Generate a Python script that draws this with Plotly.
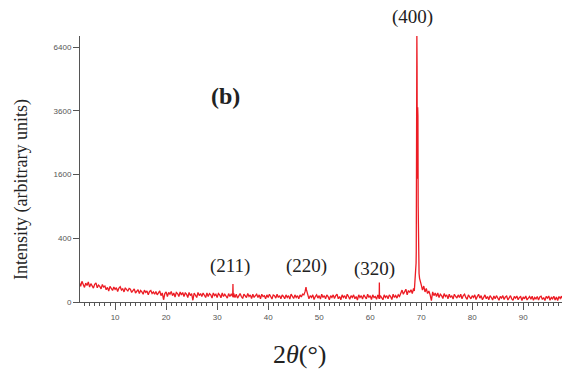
import numpy as np
import plotly.graph_objects as go

# Background scan, sampled every 0.25 deg from 3.0 (intensity, counts)
bg_start, bg_step = 3.0, 0.25
bg_intensity = [
    38, 24, 42, 30, 21, 35, 27, 40, 22, 33, 26, 19, 31, 36, 20, 28, 24, 17, 30, 22,   # 3.0 - 7.75
    25, 15, 21, 12, 24, 18, 13, 22, 16, 20, 11, 19, 23, 14, 17, 10, 20, 15, 12, 18,   # 8.0 - 12.75
    16, 9, 14, 17, 8, 12, 15, 7, 13, 10, 6, 14, 9, 12, 5, 11, 13, 7, 10, 6,           # 13.0 - 17.75
    11, 5, 9, 12, 4, 8, 0.5, 7, 10, 3, 9, 6, 11, 4, 8, 2.5, 9, 7, 3, 10,              # 18.0 - 22.75
    5, 9, 3, 8, 6, 2, 9, 4, 7, 0.3, 8, 5, 2, 9, 4, 7, 3, 8, 5, 2,                     # 23.0 - 27.75
    8, 3, 7, 5, 1.5, 8, 4, 6, 2, 7, 5, 1.8, 8, 3, 6, 4, 1.5, 7, 3, 6,                 # 28.0 - 32.75
    4, 7, 2, 6, 1.5, 5, 7, 3, 1.2, 6, 4, 2, 7, 3, 5, 1.2, 6, 2, 4, 6,                 # 33.0 - 37.75
    2, 5, 1, 6, 3, 4, 1, 5, 2, 6, 3, 0.9, 5, 4, 1.5, 6, 2, 4, 1, 5,                   # 38.0 - 42.75
    3, 1, 5, 2, 4, 0.8, 6, 3, 1.2, 5, 2, 4, 1, 5, 2.5, 6, 5, 11, 15, 4,               # 43.0 - 47.75
    1, 4, 2, 5, 0.6, 3, 5, 1.5, 4, 0.8, 6, 2, 4, 1, 5, 3, 0.5, 4, 2, 5,               # 48.0 - 52.75
    1.2, 4, 6, 1, 3, 0.5, 5, 2, 4, 1, 6, 3, 0.7, 4, 2, 5, 1, 3, 0.4, 5,               # 53.0 - 57.75
    2, 4, 0.8, 5, 3, 1, 6, 2, 4, 0.6, 5, 2, 3, 0.7, 5, 1, 4, 2, 0.5, 5,               # 58.0 - 62.75
    2, 4, 1, 5, 3, 0.6, 6, 2, 4, 1.5, 5, 3, 8, 14, 6, 12, 16, 5, 13, 9,               # 63.0 - 67.75
    15, 7, 18, 35, 150, 1600, 150, 45, 30, 14, 25, 10, 18, 7, 12, 5, 0.2, 10, 4, 8,   # 68.0 - 72.75
    3, 8, 2, 6, 4, 1.2, 7, 3, 5, 1, 6, 2, 4, 0.8, 6, 3, 1.5, 5, 2, 6,                 # 73.0 - 77.75
    1, 4, 6, 2, 0.7, 5, 3, 1, 4, 2, 5, 0.6, 3, 6, 1.5, 4, 0.5, 3, 5, 1,               # 78.0 - 82.75
    3, 0.5, 4, 2, 0.4, 3.5, 1, 4, 2, 0.3, 3, 1.5, 4, 0.6, 2.5, 3.5, 0.4, 2, 4, 1,     # 83.0 - 87.75
    0.3, 3, 1.5, 3.6, 0.5, 2, 3, 0.2, 2.5, 1, 3.5, 0.4, 2, 3, 0.8, 3.2, 0.3, 2, 1, 3, # 88.0 - 92.75
    0.4, 2.5, 3.4, 0.6, 2, 0.2, 3, 1.5, 3.5, 0.3, 2, 1, 3.3, 0.4, 2.5, 0.2, 3, 1.2, 3.4, 0.5,  # 93.0 - 97.75
]

# Reflections and peak-profile points (2theta, intensity)
peak_two_theta = [33.05, 33.1, 33.15,
                  47.42,
                  61.77, 61.8, 61.83,
                  68.65, 68.85, 68.95, 69.03, 69.08, 69.12, 69.15, 69.19,
                  69.23, 69.27, 69.31, 69.36, 69.41, 69.48, 69.58, 69.68, 69.85]
peak_intensity = [3, 32, 2,
                  22,
                  1, 37, 1,
                  12, 45, 70, 250, 1500, 5000, 7020, 5500,
                  1800, 1500, 3735, 3400, 900, 200, 80, 55, 35]

y_tick_vals = [0, 400, 1600, 3600, 6400]
hkl_labels = ["(211)", "(220)", "(320)", "(400)"]

bg_two_theta = [round(bg_start + bg_step * i, 2) for i in range(len(bg_intensity))]
pairs = sorted(zip(bg_two_theta + peak_two_theta, bg_intensity + peak_intensity))
x = [p[0] for p in pairs]
y = np.sqrt([p[1] for p in pairs])

fig = go.Figure()
fig.add_trace(go.Scatter(x=x, y=y, mode="lines",
                         line=dict(color="#ec1c24", width=1.3), hoverinfo="skip"))

W, H = 562, 370
L, R, T, B = 80, 0, 36, 68
pw, ph = W - L - R, H - T - B

def px(xp):
    return (xp - L) / pw

def py(yp):
    return (H - B - yp) / ph

serif = "Liberation Serif"
ann = []
label_pos = [(230, 266), (306, 266), (374, 269), (412, 17)]
for t, (ax_, ay_) in zip(hkl_labels, label_pos):
    ann.append(dict(text=t, x=px(ax_), y=py(ay_), xref="paper", yref="paper",
                    showarrow=False, xanchor="center", yanchor="middle",
                    font=dict(family=serif, size=19, color="#222")))
ann.append(dict(text="<b>(b)</b>", x=px(225), y=py(96), xref="paper", yref="paper",
                showarrow=False, xanchor="center", yanchor="middle",
                font=dict(family=serif, size=24, color="#222")))
ann.append(dict(text="2<i>θ</i>(°)", x=px(300), y=py(354), xref="paper", yref="paper",
                showarrow=False, xanchor="center", yanchor="middle",
                font=dict(family=serif, size=26, color="#222")))
ann.append(dict(text="Intensity (arbitrary units)", x=px(21), y=py(190),
                xref="paper", yref="paper", textangle=-90,
                showarrow=False, xanchor="center", yanchor="middle",
                font=dict(family=serif, size=18, color="#222")))

fig.update_layout(
    width=W, height=H,
    margin=dict(l=L, r=R, t=T, b=B),
    paper_bgcolor="white", plot_bgcolor="white",
    showlegend=False,
    annotations=ann,
    xaxis=dict(range=[3.12, 97.6], showgrid=False, zeroline=False,
               showline=True, linecolor="#555", linewidth=1,
               ticks="outside", ticklen=7, tickcolor="#555", tickwidth=1,
               tick0=0, dtick=10,
               tickfont=dict(family="Liberation Sans", size=8, color="#555"),
               minor=dict(ticks="outside", dtick=1, ticklen=3, tickcolor="#555")),
    yaxis=dict(range=[0, 83.5], showgrid=False, zeroline=False,
               showline=True, linecolor="#555", linewidth=1,
               ticks="outside", ticklen=6, tickcolor="#555", tickwidth=1,
               tickvals=list(np.sqrt(y_tick_vals)),
               ticktext=[str(v) for v in y_tick_vals],
               tickfont=dict(family="Liberation Sans", size=8, color="#555")),
)

fig.write_html("out.html", config={"displayModeBar": False},
               post_script="document.body.style.margin='0px';")
